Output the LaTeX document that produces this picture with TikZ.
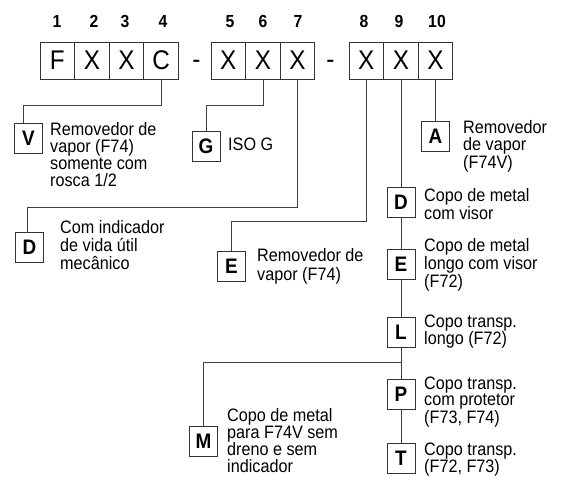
\documentclass[tikz,border=0pt]{standalone}
\usepackage{fontspec}
\setmainfont{Liberation Sans}[FakeStretch=0.9]
\newcommand\mlines[1]{\vtop{\tabskip=0pt\halign{##\hfil\cr#1\crcr}}}
\begin{document}
\begin{tikzpicture}[x=1bp,y=-1bp,
  ln/.style={line width=0.8bp, draw=black!75},
  topbox/.style={draw=black!80, line width=0.8bp, minimum width=34.6bp, minimum height=37bp, inner sep=0pt, font=\fontsize{27bp}{27bp}\selectfont},
  num/.style={font=\bfseries\fontsize{17.5bp}{17.5bp}\selectfont, anchor=base, inner sep=0pt},
  dashtxt/.style={font=\fontsize{27bp}{27bp}\selectfont, anchor=base, inner sep=0pt},
  lbox/.style={draw=black!80, line width=0.8bp, minimum width=28bp, minimum height=30bp, inner sep=0pt, font=\bfseries\fontsize{21bp}{21bp}\selectfont},
  desc/.style={anchor=base west, inner sep=0pt, font=\fontsize{18bp}{17bp}\selectfont},
]
\useasboundingbox (0,0) rectangle (561,477);

% top code boxes
\node[topbox] (b1) at (57.3,60.5) {F};
\node[topbox] (b2) at (91.9,60.5) {X};
\node[topbox] (b3) at (126.5,60.5) {X};
\node[topbox] (b4) at (161.1,60.5) {C};
\node[dashtxt] (d1) at (196.5,69) {-};
\node[topbox] (b5) at (228.3,60.5) {X};
\node[topbox] (b6) at (262.9,60.5) {X};
\node[topbox] (b7) at (297.5,60.5) {X};
\node[dashtxt] (d2) at (330.5,69) {-};
\node[topbox] (b8) at (366.3,60.5) {X};
\node[topbox] (b9) at (400.9,60.5) {X};
\node[topbox] (b10) at (435.5,60.5) {X};

% position numbers
\node[num] (n1) at (57,27.5) {1};
\node[num] (n2) at (94,27.5) {2};
\node[num] (n3) at (125,27.5) {3};
\node[num] (n4) at (163,27.5) {4};
\node[num] (n5) at (230,27.5) {5};
\node[num] (n6) at (263,27.5) {6};
\node[num] (n7) at (298,27.5) {7};
\node[num] (n8) at (364,27.5) {8};
\node[num] (n9) at (399,27.5) {9};
\node[num] (n10) at (437,27.5) {10};

% option boxes
\node[lbox] (V) at (28.5,138.5) {V};
\node[lbox] (G) at (206,146) {G};
\node[lbox] (Dl) at (29.5,247) {D};
\node[lbox] (El) at (231.5,266) {E};
\node[lbox] (A) at (435.5,136) {A};
\node[lbox] (Dr) at (400.9,202) {D};
\node[lbox] (Er) at (400.9,264.5) {E};
\node[lbox] (L) at (400.9,332.5) {L};
\node[lbox] (P) at (400.9,394.5) {P};
\node[lbox] (T) at (400.9,458.5) {T};
\node[lbox] (M) at (203.5,441.5) {M};

% descriptions
\node[desc] (tV) at (50,135.7) {\mlines{Removedor de\cr vapor (F74)\cr somente com\cr rosca 1/2}};
\node[desc] (tG) at (228,151) {ISO G};
\node[desc, font=\fontsize{18bp}{18bp}\selectfont] (tDl) at (60,233.3) {\mlines{Com indicador\cr de vida útil\cr mecânico}};
\node[desc, font=\fontsize{18bp}{18.3bp}\selectfont] (tEl) at (257,261.7) {\mlines{Removedor de\cr vapor (F74)}};
\node[desc, font=\fontsize{18bp}{16.5bp}\selectfont] (tA) at (463,134) {\mlines{Removedor\cr de vapor\cr (F74V)}};
\node[desc, font=\fontsize{18bp}{18.5bp}\selectfont] (tDr) at (424,201.5) {\mlines{Copo de metal\cr com visor}};
\node[desc, font=\fontsize{18bp}{17.7bp}\selectfont] (tEr) at (424,251.7) {\mlines{Copo de metal\cr longo com visor\cr (F72)}};
\node[desc] (tL) at (424,327.7) {\mlines{Copo transp.\cr longo (F72)}};
\node[desc, font=\fontsize{18bp}{16.3bp}\selectfont] (tP) at (424,389.3) {\mlines{Copo transp.\cr com protetor\cr (F73, F74)}};
\node[desc, font=\fontsize{18bp}{17bp}\selectfont] (tT) at (424,455.5) {\mlines{Copo transp.\cr (F72, F73)}};
\node[desc, font=\fontsize{18bp}{16.9bp}\selectfont] (tM) at (227,421.7) {\mlines{Copo de metal\cr para F74V sem\cr dreno e sem\cr indicador}};

% connectors
\coordinate (hV) at (23,105);
\coordinate (hG) at (206,105);
\coordinate (hD) at (27,207);
\coordinate (hE) at (231.5,221);
\coordinate (hM) at (203.5,362);
\draw[ln] (b4.south) |- (hV) -- (hV |- V.north);
\draw[ln] (b6.south) |- (hG) -- (G.north);
\draw[ln] (b7.south) |- (hD) -- (hD |- Dl.north);
\draw[ln] (b8.south) |- (hE) -- (El.north);
\draw[ln] (b10.south) -- (A.north);
\draw[ln] (b9.south) -- (Dr.north);
\draw[ln] (Dr.south) -- (Er.north);
\draw[ln] (Er.south) -- (L.north);
\draw[ln] (L.south) -- (P.north);
\draw[ln] (P.south) -- (T.north);
\draw[ln] (L.south |- hM) -| (M.north);
\end{tikzpicture}
\end{document}
